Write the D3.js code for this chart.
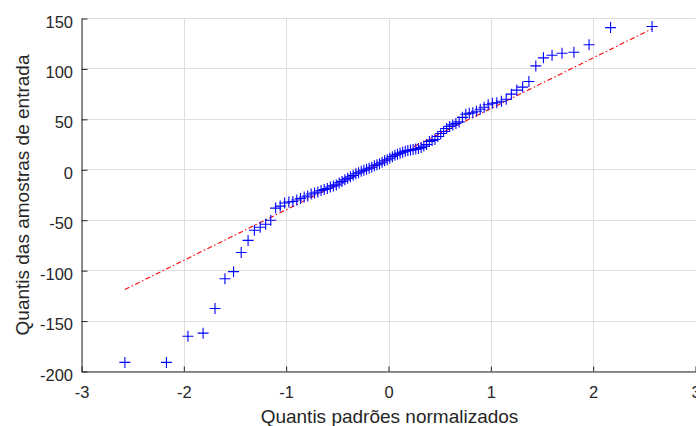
<!DOCTYPE html>
<html>
<head>
<meta charset="utf-8">
<script src="https://cdn.jsdelivr.net/npm/d3@7"></script>
<style>
  html, body { margin: 0; padding: 0; background: #ffffff; }
  svg { display: block; }
  text { font-family: "Liberation Sans", Arial, Helvetica, sans-serif; fill: #262626; }
</style>
</head>
<body>
<svg id="chart" width="696" height="426"></svg>
<script>
// Sorted sample values (100 observations), plotted against normal quantiles
const sampleValues = [
  -191, -191, -165, -162, -137.5, -108, -101, -82, -70, -60,
  -57, -54, -50, -38, -36, -33, -32, -31.5, -30, -28.5,
  -27, -26, -24, -23, -22, -20.5, -19.5, -18.5, -17, -16,
  -15, -13, -11.5, -10, -8.5, -7, -5.5, -4, -3, -1.5,
  -0.5, 0.5, 1.5, 2.5, 4, 5, 6, 7.5, 9, 10,
  11.5, 13, 14.5, 15.5, 16.5, 17.5, 18.5, 19, 19.5, 20,
  20.5, 21, 22, 23.5, 25, 28, 29, 30, 33, 36,
  38, 41, 43, 44.5, 46, 47.5, 52, 55, 56, 56.5,
  58, 60, 62, 64.5, 66, 66.5, 68, 70, 75, 79,
  82, 87.5, 103, 111, 113.5, 115.5, 116.5, 124, 141, 142
];

// Reference line values at the first and last theoretical quantile
const refLineValues = [-118.7, 139.8];

const xTicks = [-3, -2, -1, 0, 1, 2, 3];
const yTicks = [-200, -150, -100, -50, 0, 50, 100, 150];
const xDomain = [-3, 3];
const yDomain = [-200, 150];
const xTitle = "Quantis padrões normalizados";
const yTitle = "Quantis das amostras de entrada";

// Inverse standard normal CDF (Acklam's rational approximation)
function normInv(p) {
  const a = [-3.969683028665376e+01, 2.209460984245205e+02, -2.759285104469687e+02,
             1.383577518672690e+02, -3.066479806614716e+01, 2.506628277459239e+00];
  const b = [-5.447609879822406e+01, 1.615858368580409e+02, -1.556989798598866e+02,
             6.680131188771972e+01, -1.328068155288572e+01];
  const c = [-7.784894002430293e-03, -3.223964580411365e-01, -2.400758277161838e+00,
             -2.549732539343734e+00, 4.374664141464968e+00, 2.938163982698783e+00];
  const d = [7.784695709041462e-03, 3.224671290700398e-01, 2.445134137142996e+00,
             3.754408661907416e+00];
  const pl = 0.02425, ph = 1 - pl;
  let q, r;
  if (p < pl) {
    q = Math.sqrt(-2 * Math.log(p));
    return (((((c[0]*q+c[1])*q+c[2])*q+c[3])*q+c[4])*q+c[5]) /
           ((((d[0]*q+d[1])*q+d[2])*q+d[3])*q+1);
  } else if (p <= ph) {
    q = p - 0.5; r = q * q;
    return (((((a[0]*r+a[1])*r+a[2])*r+a[3])*r+a[4])*r+a[5])*q /
           (((((b[0]*r+b[1])*r+b[2])*r+b[3])*r+b[4])*r+1);
  } else {
    q = Math.sqrt(-2 * Math.log(1 - p));
    return -(((((c[0]*q+c[1])*q+c[2])*q+c[3])*q+c[4])*q+c[5]) /
            ((((d[0]*q+d[1])*q+d[2])*q+d[3])*q+1);
  }
}

const n = sampleValues.length;
const points = sampleValues.map((v, i) => ({ q: normInv((i + 0.5) / n), v }));

const svg = d3.select("#chart");
const plotLeft = 81.5, plotRight = 695.5, plotTop = 18.5, plotBottom = 371.5;

const x = d3.scaleLinear().domain(xDomain).range([plotLeft, plotRight]);
const y = d3.scaleLinear().domain(yDomain).range([plotBottom, plotTop]);

// Grid lines
const grid = svg.append("g").attr("stroke", "#dedede").attr("stroke-width", 1);
grid.selectAll("line.gx").data(xTicks).join("line")
  .attr("x1", d => Math.round(x(d)) + 0.5).attr("x2", d => Math.round(x(d)) + 0.5)
  .attr("y1", plotTop).attr("y2", plotBottom);
grid.selectAll("line.gy").data(yTicks).join("line")
  .attr("y1", d => Math.round(y(d) - 0.5) + 0.5).attr("y2", d => Math.round(y(d) - 0.5) + 0.5)
  .attr("x1", plotLeft).attr("x2", plotRight);

// Axes (ticks point inward)
const xAxis = d3.axisBottom(x).tickValues(xTicks).tickSizeInner(-5).tickSizeOuter(0)
  .tickPadding(0).tickFormat(d3.format("d"));
const yAxis = d3.axisLeft(y).tickValues(yTicks).tickSizeInner(-6).tickSizeOuter(0)
  .tickPadding(0).tickFormat(d3.format("d"));

const gx = svg.append("g").attr("transform", `translate(0,${plotBottom})`).call(xAxis);
const gy = svg.append("g").attr("transform", `translate(${plotLeft},0)`).call(yAxis);

[gx, gy].forEach(g => {
  g.select(".domain").attr("stroke", "#262626").attr("stroke-width", 1);
  g.selectAll(".tick line").attr("stroke", "#262626").attr("stroke-width", 1);
  g.selectAll(".tick text").attr("fill", "#262626")
    .style("font-family", '"Liberation Sans", Arial, sans-serif').style("font-size", "16.5px");
});
gx.selectAll(".tick text").attr("y", 26).attr("dy", null);
gy.selectAll(".tick text").attr("x", -8.5).attr("dy", "8.5px");
gx.selectAll(".tick text").text(d => d < 0 ? "-" + Math.abs(d) : String(d));
gy.selectAll(".tick text").text(d => d < 0 ? "-" + Math.abs(d) : String(d));

// Reference line through the fitted quartiles, dash-dot
const qMin = points[0].q, qMax = points[n - 1].q;
svg.append("line")
  .attr("x1", x(qMin)).attr("y1", y(refLineValues[0]))
  .attr("x2", x(qMax)).attr("y2", y(refLineValues[1]))
  .attr("stroke", "#ff0000").attr("stroke-width", 1.1)
  .attr("stroke-dasharray", "5,2.5,1.5,2.5");

// Sample markers
svg.append("g").selectAll("path").data(points).join("path")
  .attr("transform", d => `translate(${x(d.q)},${y(d.v)})`)
  .attr("d", "M-5.5,0H5.5M0,-5.5V5.5")
  .attr("stroke", "#0000ff").attr("stroke-width", 1.1).attr("fill", "none");

// Axis titles
svg.append("text")
  .attr("x", 389.5).attr("y", 422.5)
  .attr("text-anchor", "middle").style("font-size", "19px")
  .text(xTitle);

svg.append("text")
  .attr("transform", `translate(29,${(plotTop + plotBottom) / 2}) rotate(-90)`)
  .attr("text-anchor", "middle").style("font-size", "19px")
  .text(yTitle);
</script>
</body>
</html>
